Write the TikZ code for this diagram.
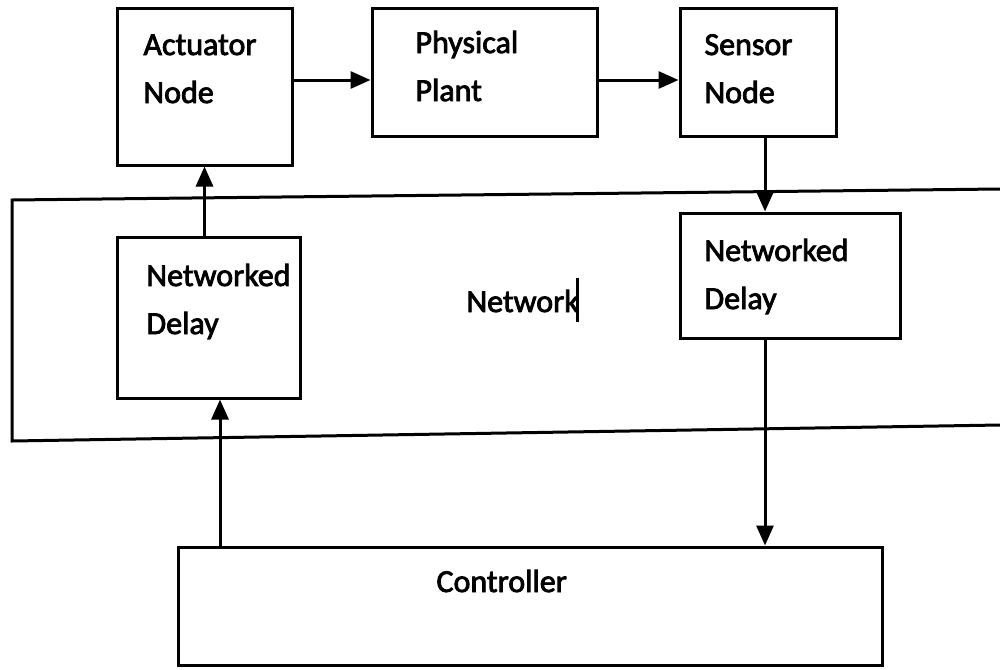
\documentclass[tikz,border=0pt]{standalone}
\usepackage{fontspec}
\setmainfont[RawFeature={embolden=2.5}]{Carlito}
\usetikzlibrary{arrows.meta}

\begin{document}
\begin{tikzpicture}[x=0.5pt, y=-0.5pt, line width=1.5pt]
\tikzstyle{box_style} = [draw=black, rectangle, inner sep=0pt]
\tikzstyle{text_style} = [align=left, inner sep=0pt, anchor=base west, font=\fontsize{16pt}{24pt}\selectfont]
\tikzstyle{arrow_style} = [draw=black, -{Triangle[length=10pt, width=8.5pt]}]

\useasboundingbox (0,0) rectangle (1000,669);

% the network strip, open on the right
\draw (1000,189) -- (12,200) -- (12,441) -- (1000,425);

\node[box_style, minimum width=87.5pt, minimum height=78.5pt] (act) at (204.5,86.5) {};
\node[box_style, minimum width=112.5pt, minimum height=64pt] (plant) at (484.5,72) {};
\node[box_style, minimum width=78pt, minimum height=64pt] (sens) at (758,72) {};
\node[box_style, minimum width=91.5pt, minimum height=80.5pt] (dl) at (208.5,317.5) {};
\node[box_style, minimum width=110pt, minimum height=62.5pt] (dr) at (790,275.5) {};
\node[box_style, minimum width=352pt, minimum height=59pt] (ctrl) at (530,606) {};

% texts sit on the baseline of their last line
\node[text_style] (act_txt) at (142,103) {Actuator\\Node};
\node[text_style] (plant_txt) at (414,101) {Physical\\Plant};
\node[text_style] (sens_txt) at (703,103) {Sensor\\Node};
\node[text_style] (dl_txt) at (145,334) {Networked\\Delay};
\node[text_style] (dr_txt) at (703,309) {Networked\\Delay};
\node[text_style] (net_txt) at (465,312) {Network};
\node[text_style] (ctrl_txt) at (435,592) {Controller};
\draw[line width=1.5pt] (577,278) -- (577,322);

\coordinate (row) at (0,80);
\coordinate (down) at (765,0);
\coordinate (up) at (220,0);

\draw[arrow_style] (act.east |- row) -- (plant.west |- row);
\draw[arrow_style] (plant.east |- row) -- (sens.west |- row);
\draw[arrow_style] (sens.south -| down) -- (dr.north -| down);
\draw[arrow_style] (dr.south -| down) -- (ctrl.north -| down);
\draw[arrow_style] (ctrl.north -| up) -- (dl.south -| up);
\draw[arrow_style] (dl.north -| act.south) -- (act.south);
\end{tikzpicture}
\end{document}
